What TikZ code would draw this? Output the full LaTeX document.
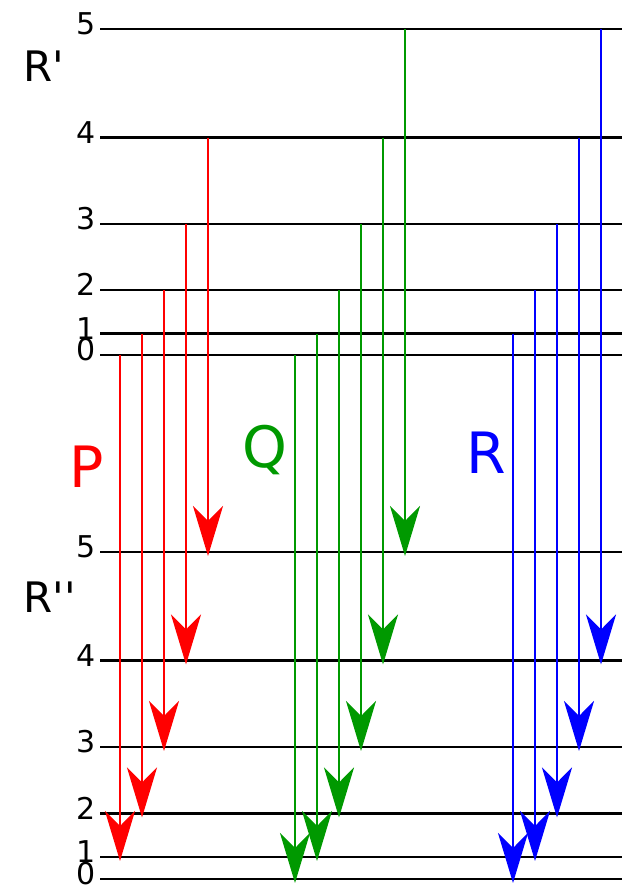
\documentclass[tikz,border=0pt]{standalone}
\usepackage{fontspec}
\setmainfont{DejaVu Sans}
\usetikzlibrary{arrows.meta}
\definecolor{pr}{RGB}{255,0,0}
\definecolor{qg}{RGB}{0,153,0}
\definecolor{rb}{RGB}{0,0,255}
\begin{document}
\begin{tikzpicture}[x=1pt,y=-1pt,
  levelline/.style={line width=2.4pt,black},
  trans/.style={line width=2.6pt,-{Stealth[length=50pt,width=30pt,inset=15pt]}},
  num/.style={anchor=base east,inner sep=0pt,font=\fontsize{30}{30}\selectfont},
  branchlbl/.style={anchor=base,inner sep=0pt,font=\fontsize{57}{57}\selectfont},
  statelbl/.style={anchor=base,inner sep=0pt,font=\fontsize{42}{42}\selectfont}]
\useasboundingbox (0,0) rectangle (631,886);
% upper state R'
\foreach \j/\y in {0/355,1/333.5,2/290,3/224,4/137.5,5/29}{
  \coordinate (u\j) at (100,\y);
  \coordinate (ue\j) at (622,\y);
  \draw[levelline] (u\j) -- (ue\j);
  \node[num] (un\j) at (96,\y+5.5) {\j};
}
% lower state R''
\foreach \j/\y in {0/879,1/857,2/813.5,3/747,4/660.5,5/552}{
  \coordinate (l\j) at (100,\y);
  \coordinate (le\j) at (622,\y);
  \draw[levelline] (l\j) -- (le\j);
  \node[num] (ln\j) at (96,\y+5.5) {\j};
}
\node[statelbl] (Rp) at (44,81) {R\textquotesingle};
\node[statelbl] (Rpp) at (49.5,612) {R\textquotesingle\textquotesingle};
\node[branchlbl,text=pr] (Plbl) at (86.5,487) {P};
\node[branchlbl,text=qg] (Qlbl) at (264.5,467) {Q};
\node[branchlbl,text=rb] (Rlbl) at (486.5,473) {R};
% P branch
\foreach \x/\ya/\yb [count=\i] in {120/355/861,142/333.5/817.5,164/290/751,186/224/664.5,208/137.5/556}{
  \coordinate (Ps\i) at (\x,\ya);
  \coordinate (Pe\i) at (\x,\yb);
  \draw[trans,pr] (Ps\i) -- (Pe\i);
}
% Q branch
\foreach \x/\ya/\yb [count=\i] in {295/355/883,317/333.5/861,339/290/817.5,361/224/751,383/137.5/664.5,405/29/556}{
  \coordinate (Qs\i) at (\x,\ya);
  \coordinate (Qe\i) at (\x,\yb);
  \draw[trans,qg] (Qs\i) -- (Qe\i);
}
% R branch
\foreach \x/\ya/\yb [count=\i] in {513/333.5/883,535/290/861,557/224/817.5,579/137.5/751,601/29/664.5}{
  \coordinate (Rs\i) at (\x,\ya);
  \coordinate (Re\i) at (\x,\yb);
  \draw[trans,rb] (Rs\i) -- (Re\i);
}
\end{tikzpicture}
\end{document}
